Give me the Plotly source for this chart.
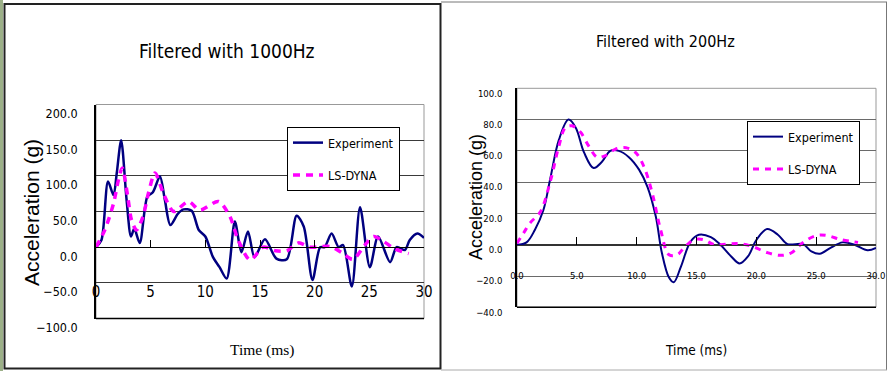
import plotly.graph_objects as go

# ---------------- data ----------------
# Filtered with 1000Hz
t_exp_1000 = [0, 0.5, 1.1, 1.6, 1.9, 2.3, 2.8, 3.2, 3.5, 4.0, 4.7, 5.2, 5.85, 6.3, 6.8, 7.5, 8.0, 8.75,
              9.4, 10.0, 10.7, 11.3, 11.95, 12.7, 13.3, 13.9, 14.5, 15.45, 16.5, 17.45, 18.35, 19.0,
              19.8, 20.5, 20.9, 21.55, 22.2, 22.6, 23.4, 24.15, 25.05, 25.8, 26.9, 27.5, 28.25, 28.7,
              29.4, 30.0]
a_exp_1000 = [0, 10, 92, 73, 104, 150, 66, 15, 26, 6, 71, 77, 99, 66, 31, 47, 53, 51,
              24, 15, -14, -28, -44, 36, -7, 22, -14, 11, -16, -17, 44, 29,
              -46, 0, 0, 19, 0, 3, -55, 56, -28, 15, -21, 0, -4, 10,
              19, 13]
t_dyna_1000 = [0, 0.8, 1.6, 2.05, 2.4, 2.9, 3.25, 3.7, 4.3, 4.8, 5.4, 6.15, 7.1, 8.45, 9.5, 11.2, 12.25,
               13.0, 14.1, 15.3, 16.4, 17.45, 18.5, 19.6, 21.4, 22.5, 23.5, 24.6, 25.4, 26.3, 27.3, 28.6]
a_dyna_1000 = [0, 24, 61, 94, 111, 71, 38, 24, 43, 76, 104, 76, 50, 64, 52, 64, 43,
               10, -18, 0, -5, -5, 6, 0, 1, -8, -17, 3, 15, 8, -2, -9]

# Filtered with 200Hz
t_exp_200 = [0, 0.8, 1.5, 2.2, 2.8, 3.5, 4.3, 4.9, 5.6, 6.4, 7.1, 7.8, 8.5, 9.35, 10.2, 10.9, 11.6,
             12.1, 12.7, 13.1, 13.7, 14.5, 15.2, 16.2, 17.0, 17.9, 18.6, 19.3, 20.0, 20.9, 21.8, 22.6,
             23.9, 24.6, 25.3, 26.2, 27.2, 28.2, 29.3, 30.0]
a_exp_200 = [0, 1.5, 9.6, 22, 43, 67, 80, 75, 59, 49, 53, 60, 60, 56, 48, 37, 18,
             -5, -21, -24, -14, 2, 6.4, 4.9, 0, -7.5, -12, -7.5, 3, 10, 6.4, 0.4,
             0.4, -4.3, -5.8, -2, 1.5, 0, -3.6, -2]
t_dyna_200 = [0, 0.55, 1.1, 1.95, 2.8, 3.5, 4.05, 4.6, 5.3, 6.0, 6.7, 7.4, 8.2, 9.1, 9.9, 10.6, 11.3,
              12.0, 12.7, 13.4, 13.95, 14.8, 15.6, 16.5, 17.6, 18.7, 19.8, 20.9, 22.0, 22.9, 24.0,
              25.1, 25.95, 27.1, 28.5]
a_dyna_200 = [1, 7.5, 14, 21, 41, 63, 75, 76, 72, 63, 56, 57, 61, 62, 59, 50, 33,
              9.6, -6.4, -6.4, -2, 3.2, 3.2, 0, 0.4, 0.6, -1.5, -5, -6.8, -5.3, 2,
              6, 5.8, 3.2, 1.5]

x_ticks_1000 = [0, 5, 10, 15, 20, 25, 30]
x_ticklabels_1000 = ["0", "5", "10", "15", "20", "25", "30"]
x_ticks_200 = [0, 5, 10, 15, 20, 25, 30]
x_ticklabels_200 = ["0.0", "5.0", "10.0", "15.0", "20.0", "25.0", "30.0"]

# ---------------- layout helpers ----------------
W, H = 888, 371
def px(x):
    return x / W
def py(y):
    return 1 - y / H

NARROW = "DejaVu Sans Condensed, Liberation Sans Narrow, Arial Narrow, Liberation Sans, sans-serif"
SANS = "Liberation Sans, Arial, sans-serif"
SERIF = "Liberation Serif, Times New Roman, serif"
NAVY = "#000080"
MAGENTA = "#FF00FF"

yr1 = [-100, 200]
yd1 = [py(318.5), py(104.5)]
yr2 = [-40, 100]
yd2 = [py(307.3), py(88.3)]
zero1 = yd1[0] + (0 - yr1[0]) / (yr1[1] - yr1[0]) * (yd1[1] - yd1[0])
zero2 = yd2[0] + (0 - yr2[0]) / (yr2[1] - yr2[0]) * (yd2[1] - yd2[0])

fig = go.Figure()

fig.add_trace(go.Scatter(x=t_exp_1000, y=a_exp_1000, mode="lines", name="Experiment",
                         line=dict(color=NAVY, width=2.5, shape="spline", smoothing=0.8),
                         xaxis="x", yaxis="y", legend="legend", legendgroup="a"))
fig.add_trace(go.Scatter(x=t_dyna_1000, y=a_dyna_1000, mode="lines", name="LS-DYNA",
                         line=dict(color=MAGENTA, width=3.5, dash="7px,6px", shape="spline", smoothing=0.8),
                         xaxis="x", yaxis="y", legend="legend", legendgroup="b"))
fig.add_trace(go.Scatter(x=t_exp_200, y=a_exp_200, mode="lines", name="Experiment",
                         line=dict(color=NAVY, width=2, shape="spline", smoothing=1),
                         xaxis="x2", yaxis="y2", legend="legend2", legendgroup="c"))
fig.add_trace(go.Scatter(x=t_dyna_200, y=a_dyna_200, mode="lines", name="LS-DYNA",
                         line=dict(color=MAGENTA, width=3, dash="6px,6px", shape="spline", smoothing=1),
                         xaxis="x2", yaxis="y2", legend="legend2", legendgroup="d"))

fig.update_layout(
    width=W, height=H,
    margin=dict(l=0, r=0, t=0, b=0, autoexpand=False),
    paper_bgcolor="white", plot_bgcolor="white",
    showlegend=True,
    xaxis=dict(domain=[px(96), px(424)], range=[0, 30], anchor="free", position=zero1,
               automargin=False,
               tickvals=x_ticks_1000, ticktext=x_ticklabels_1000,
               showgrid=False, zeroline=False, showline=True, linecolor="black", linewidth=1,
               ticks="inside", ticklen=7, tickcolor="black",
               ticklabelstandoff=31,
               tickfont=dict(family=NARROW, size=15, color="black")),
    yaxis=dict(domain=yd1, range=yr1, dtick=50, tick0=0, tickformat=".1f",
               automargin=False,
               showgrid=True, gridcolor="#3a3a3a", gridwidth=1,
               zeroline=True, zerolinecolor="black", zerolinewidth=1,
               showline=True, linecolor="black", linewidth=1.5,
               ticks="", ticklabelstandoff=14, ticklabelshift=9,
               tickfont=dict(family=NARROW, size=12.5, color="black")),
    xaxis2=dict(domain=[px(517), px(876)], range=[0, 30], anchor="free", position=zero2,
                automargin=False,
                tickvals=x_ticks_200, ticktext=x_ticklabels_200,
                showgrid=False, zeroline=False, showline=True, linecolor="#333", linewidth=1,
                ticks="inside", ticklen=8, tickcolor="black",
                ticklabelstandoff=22,
                tickfont=dict(family=NARROW, size=9.5, color="black")),
    yaxis2=dict(domain=yd2, range=yr2, dtick=20, tick0=0, tickformat=".1f", anchor="x2",
                automargin=False,
                showgrid=True, gridcolor="#6a6a6a", gridwidth=1,
                zeroline=True, zerolinecolor="#333", zerolinewidth=1,
                showline=True, linecolor="black", linewidth=1.5,
                ticks="", ticklabelstandoff=11, ticklabelshift=5,
                tickfont=dict(family=NARROW, size=9.5, color="black")),
    legend=dict(x=px(287), y=py(127), xanchor="left", yanchor="top",
                bgcolor="white", bordercolor="black", borderwidth=1,
                font=dict(family=NARROW, size=12.5, color="black"),
                tracegroupgap=13, traceorder="grouped", itemwidth=30),
    legend2=dict(x=px(747), y=py(121), xanchor="left", yanchor="top",
                 bgcolor="white", bordercolor="black", borderwidth=1,
                 font=dict(family=NARROW, size=12.5, color="black"),
                 tracegroupgap=13, traceorder="grouped", itemwidth=30),
)

shapes = [
    # plot-area frames (gray top/right), black bottom
    dict(type="rect", xref="x domain", yref="y domain", x0=0, x1=1, y0=0, y1=1,
         line=dict(color="#999", width=1), layer="below"),
    dict(type="line", xref="x domain", yref="y domain", x0=0, x1=1, y0=0, y1=0,
         line=dict(color="black", width=1.5)),
    dict(type="rect", xref="x2 domain", yref="y2 domain", x0=0, x1=1, y0=0, y1=1,
         line=dict(color="#999", width=1), layer="below"),
    dict(type="line", xref="x2 domain", yref="y2 domain", x0=0, x1=1, y0=0, y1=0,
         line=dict(color="black", width=1.5)),
    # panel borders
    dict(type="rect", xref="paper", yref="paper", x0=0, x1=px(3), y0=0, y1=1,
         fillcolor="#9cb088", line=dict(width=0)),
    dict(type="rect", xref="paper", yref="paper", x0=px(4.5), x1=px(440.5), y0=py(368.5), y1=py(4),
         line=dict(color="#222", width=2)),
    dict(type="line", xref="paper", yref="paper", x0=px(441), x1=px(887), y0=py(2), y1=py(2),
         line=dict(color="#777", width=1)),
    dict(type="line", xref="paper", yref="paper", x0=px(886.5), x1=px(886.5), y0=py(370), y1=py(2),
         line=dict(color="#777", width=1)),
    dict(type="line", xref="paper", yref="paper", x0=px(441), x1=px(887), y0=py(370), y1=py(370),
         line=dict(color="#aaa", width=1)),
]
fig.update_layout(shapes=shapes)

annotations = [
    dict(text="Filtered with 1000Hz", x=px(227), y=py(51), xref="paper", yref="paper",
         xanchor="center", yanchor="middle", showarrow=False,
         font=dict(family=NARROW, size=19, color="black")),
    dict(text="Filtered with 200Hz", x=px(665), y=py(42), xref="paper", yref="paper",
         xanchor="center", yanchor="middle", showarrow=False,
         font=dict(family=NARROW, size=16, color="black")),
    dict(text="Acceleration (g)", x=px(31), y=py(213), xref="paper", yref="paper",
         xanchor="center", yanchor="middle", showarrow=False, textangle=-90,
         font=dict(family=SANS, size=21, color="black")),
    dict(text="Acceleration (g)", x=px(476), y=py(197), xref="paper", yref="paper",
         xanchor="center", yanchor="middle", showarrow=False, textangle=-90,
         font=dict(family=SANS, size=18, color="black")),
    dict(text="Time (ms)", x=px(262), y=py(350), xref="paper", yref="paper",
         xanchor="center", yanchor="middle", showarrow=False,
         font=dict(family=SERIF, size=15.5, color="black")),
    dict(text="Time (ms)", x=px(696), y=py(350), xref="paper", yref="paper",
         xanchor="center", yanchor="middle", showarrow=False,
         font=dict(family=NARROW, size=13.5, color="black")),
]
fig.update_layout(annotations=annotations)

fig.write_html("out.html", config={"displayModeBar": False},
               post_script="document.body.style.margin='0';document.body.style.padding='0';")
